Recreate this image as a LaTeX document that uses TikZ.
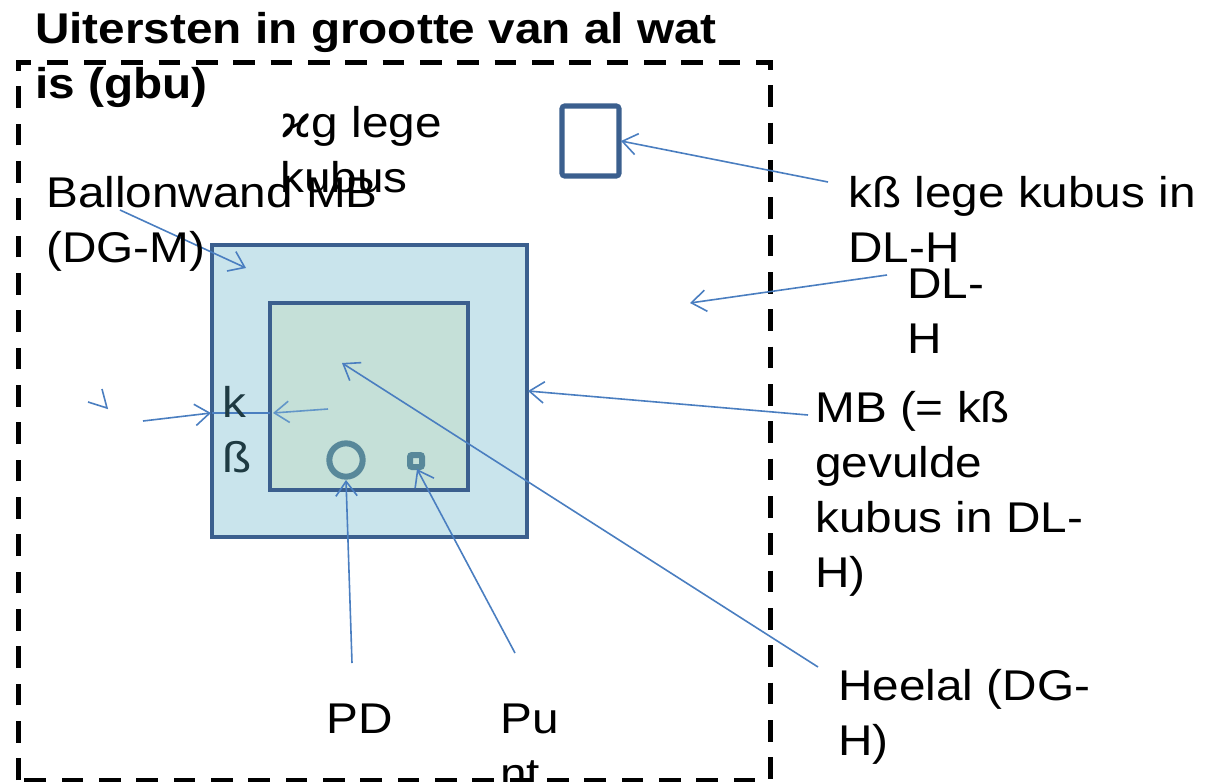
\documentclass[tikz,border=0pt]{standalone}
\usepackage{fontspec}
\setmainfont{Liberation Sans}[FakeStretch=1.11]
\newfontfamily\dvfont{DejaVu Sans}[FakeStretch=1.11]
\usetikzlibrary{arrows.meta}
\definecolor{boxblue}{RGB}{59,95,142}
\definecolor{outerfill}{RGB}{201,228,236}
\definecolor{innerfill}{RGB}{197,224,216}
\definecolor{ringcol}{RGB}{88,136,154}
\definecolor{arrowblue}{RGB}{74,126,192}
\definecolor{arrowlight}{RGB}{98,150,200}
\definecolor{kscol}{RGB}{30,58,66}
\tikzset{
  lbl/.style={inner sep=0pt, anchor=base west, align=left,
    font=\fontsize{32.25pt}{41.25pt}\selectfont},
  ttl/.style={lbl, font=\bfseries\fontsize{32.25pt}{41.25pt}\selectfont},
  frame/.style={draw=black, line width=3.75pt, dash pattern=on 16.3pt off 11.7pt},
  bigbox/.style={draw=boxblue, line width=3.3pt},
  smallshape/.style={draw=ringcol, line width=4.5pt},
  arr/.style={draw=arrowblue, line width=1.2pt, -{Straight Barb[length=11pt,width=16pt]}},
  arrl/.style={arr, draw=arrowlight},
  plain/.style={draw=arrowblue, line width=1.5pt}
}
\begin{document}
\begin{tikzpicture}[x=0.75pt,y=-0.75pt]
\useasboundingbox (0,0) rectangle (1207,782);
% frame
\draw[frame] (18,780) -- (18,62) -- (770,62) -- (770,780) -- cycle;
% shapes
\draw[bigbox, fill=outerfill] (212,245) rectangle (527,537);
\draw[bigbox, fill=innerfill] (270,303) rectangle (468,490);
\node[draw=ringcol, line width=4.5pt, circle, minimum size=25pt, inner sep=0pt] (pdc) at (346,460) {};
\draw[smallshape, rounded corners=1.5pt] (410,455) rectangle (422,467);
\draw[bigbox, line width=3.8pt, rounded corners=2pt] (562,106) rectangle (619,176);
% coordinates for connectors
\coordinate (a1s) at (120,210); \coordinate (a1e) at (246,268);
\coordinate (a2s) at (828,182); \coordinate (a2e) at (621,141);
\coordinate (a3s) at (887,275); \coordinate (a3e) at (690,303);
\coordinate (a4s) at (808,415); \coordinate (a4e) at (528,391);
\coordinate (a5s) at (818,667); \coordinate (a5e) at (342,363);
\coordinate (a6s) at (352,663); \coordinate (a6e) at (346,480);
\coordinate (a7s) at (515,653); \coordinate (a7e) at (417,469);
\coordinate (a8s) at (143,421); \coordinate (a8e) at (211,413);
\coordinate (a9s) at (328,409); \coordinate (a9e) at (273,413);
\coordinate (l1s) at (212,413); \coordinate (l1e) at (270,413);
\coordinate (c1) at (88,402); \coordinate (c2) at (107,408); \coordinate (c3) at (102,389);
% connectors
\draw[arr] (a1s) -- (a1e);
\draw[arr] (a2s) -- (a2e);
\draw[arr] (a3s) -- (a3e);
\draw[arr] (a4s) -- (a4e);
\draw[arr] (a5s) -- (a5e);
\draw[arr] (a6s) -- (a6e);
\draw[arr] (a7s) -- (a7e);
\draw[arr] (a8s) -- (a8e);
\draw[plain] (l1s) -- (l1e);
\draw[arrl] (a9s) -- (a9e);
\draw[draw=arrowblue, line width=1.2pt] (c1) -- (c2) -- (c3);
% texts (anchor = baseline of last line)
\node[ttl] (title) at (35,98) {Uitersten in grootte van al wat\\is (gbu)};
\node[lbl] (kubus) at (280,192) {{\dvfont ϰ}g lege\\kubus};
\node[lbl] (ballon) at (46,262) {Ballonwand MB\\(DG-M)};
\node[lbl] (klk) at (848,262) {kß lege kubus in\\DL-H};
\node[lbl] (dlh) at (907,353) {DL-\\H};
\node[lbl] (mb) at (815,587) {MB (= kß\\gevulde\\kubus in DL-\\H)};
\node[lbl] (heelal) at (838,755) {Heelal (DG-\\H)};
\node[lbl] (pd) at (326,733) {PD};
\node[lbl] (punt) at (500,788) {Pu\\nt};
\node[lbl, text=kscol] (ks) at (222,472) {k\\ß};
\end{tikzpicture}
\end{document}
